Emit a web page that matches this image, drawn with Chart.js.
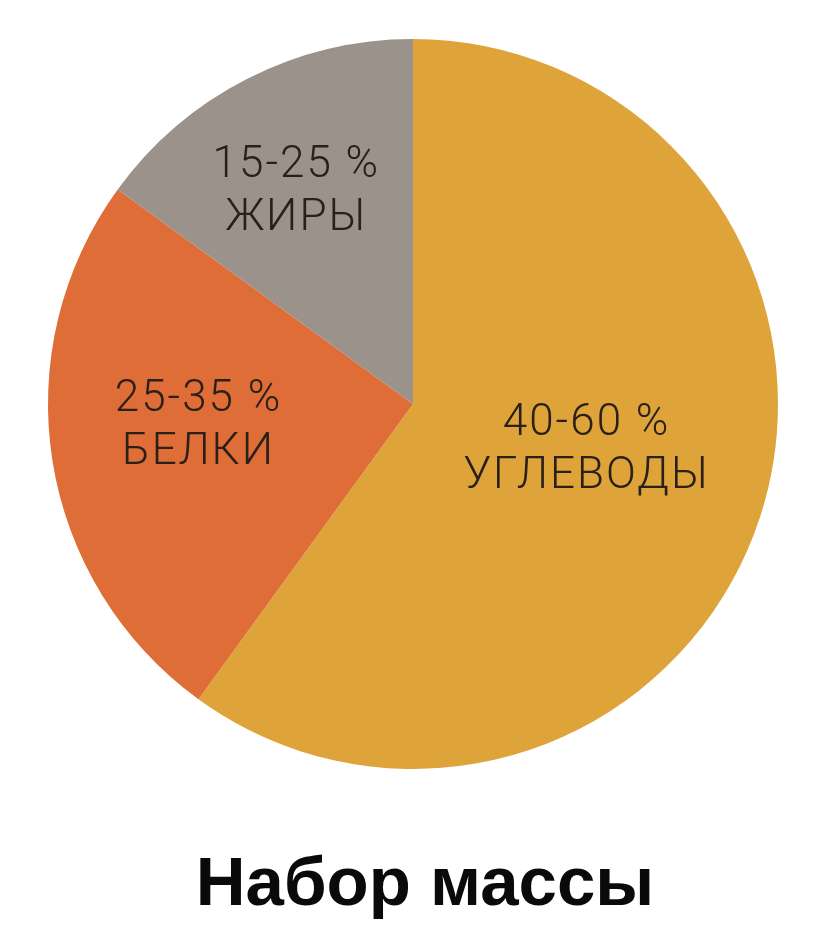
<!DOCTYPE html>
<html>
<head>
<meta charset="utf-8">
<script src="https://cdn.jsdelivr.net/npm/chart.js@4"></script>
<style>
  html, body { margin: 0; padding: 0; background: #fff; }
  #wrap { width: 824px; height: 948px; }
</style>
</head>
<body>
<div id="wrap"><canvas id="pie"></canvas></div>
<script>
// Macronutrient split for mass gain
const categories = ['УГЛЕВОДЫ', 'БЕЛКИ', 'ЖИРЫ'];
const ranges = ['40-60 %', '25-35 %', '15-25 %'];
const shares = [60, 25, 15];
const sliceColors = ['#dea43a', '#de6d37', '#9a928b'];
const chartTitle = 'Набор массы';

// label placement per slice: fraction of radius + angle nudge (deg)
const labelPlacement = [
  { r: 0.49, a: -4 },
  { r: 0.59, a: 4 },
  { r: 0.67, a: -1.5 },
];

const sliceLabels = {
  id: 'sliceLabels',
  afterDatasetsDraw(chart) {
    const { ctx } = chart;
    const arcs = chart.getDatasetMeta(0).data;
    ctx.save();
    ctx.font = '300 44px Roboto, "Liberation Sans", sans-serif';
    ctx.letterSpacing = '2px';
    ctx.fillStyle = '#2a2018';
    ctx.textAlign = 'center';
    ctx.textBaseline = 'middle';
    arcs.forEach((arc, i) => {
      const p = labelPlacement[i];
      const mid = (arc.startAngle + arc.endAngle) / 2 + p.a * Math.PI / 180;
      const dist = arc.outerRadius * p.r;
      const x = arc.x + Math.cos(mid) * dist;
      const y = arc.y + Math.sin(mid) * dist;
      ctx.fillText(ranges[i], x, y - 23);
      ctx.fillText(categories[i], x, y + 30);
    });
    ctx.restore();

    // title under the pie, slightly right of centre as in the original
    ctx.save();
    ctx.font = 'bold 69px "Liberation Sans", Arial, sans-serif';
    ctx.fillStyle = '#0a0a0a';
    ctx.textAlign = 'center';
    ctx.textBaseline = 'alphabetic';
    ctx.fillText(chartTitle, chart.width / 2 + 13, 905);
    ctx.restore();
  },
};

new Chart(document.getElementById('pie').getContext('2d'), {
  type: 'pie',
  data: {
    labels: categories,
    datasets: [{
      data: shares,
      backgroundColor: sliceColors,
      borderWidth: 0,
      hoverOffset: 0,
    }],
  },
  options: {
    responsive: true,
    maintainAspectRatio: false,
    animation: false,
    layout: { padding: { left: 48, right: 46, top: 39, bottom: 179 } },
    plugins: {
      legend: { display: false },
      tooltip: { enabled: false },
      title: { display: false },
    },
  },
  plugins: [sliceLabels],
});
</script>
</body>
</html>
